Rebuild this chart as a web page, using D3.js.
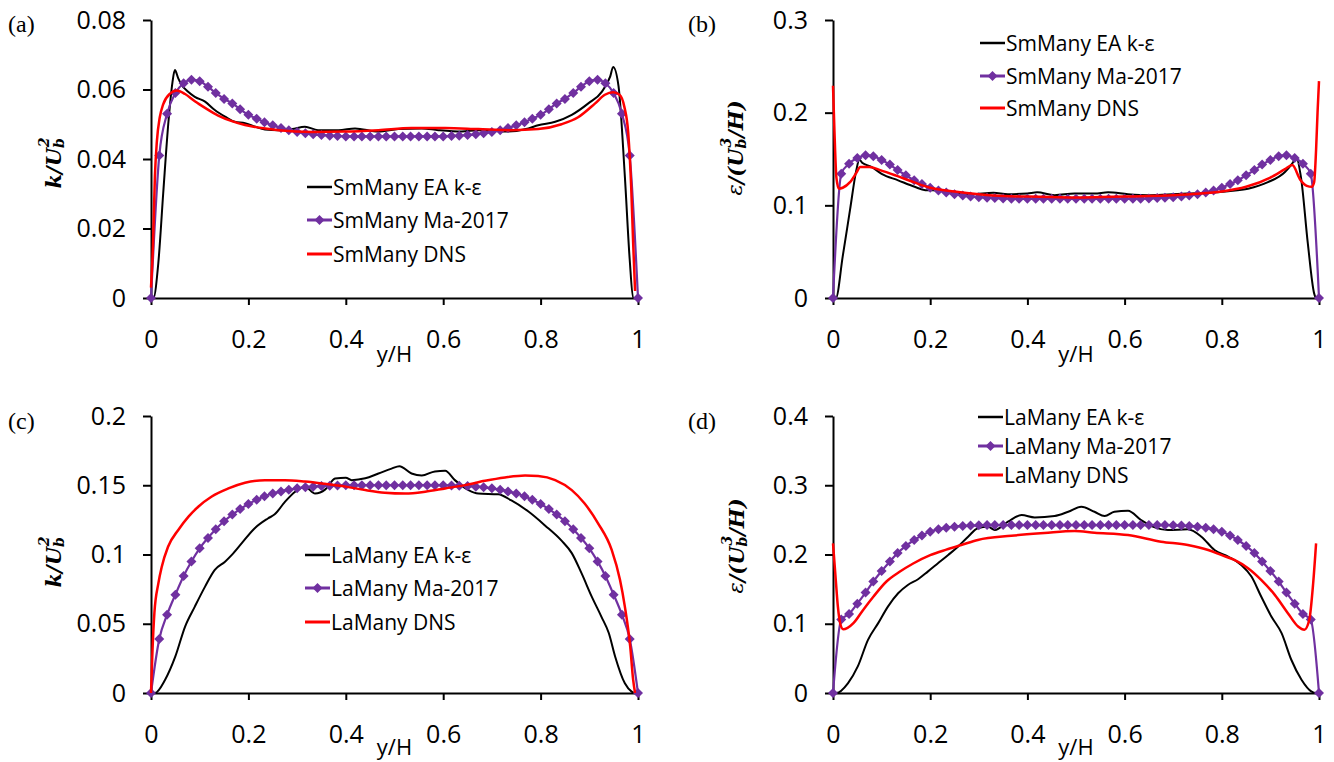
<!DOCTYPE html>
<html>
<head>
<meta charset="utf-8">
<script src="https://cdn.jsdelivr.net/npm/d3@7"></script>
<style>
  body { margin: 0; background: #fff; }
  svg text { font-family: "Open Sans", sans-serif; fill: #000; }
</style>
</head>
<body>
<svg id="chart" width="1334" height="762"></svg>
<script>
// ---- data ----
var xTicks = [0, 0.2, 0.4, 0.6, 0.8, 1];
var yTicksA = [0, 0.02, 0.04, 0.06, 0.08];
var yTicksB = [0, 0.1, 0.2, 0.3];
var yTicksC = [0, 0.05, 0.1, 0.15, 0.2];
var yTicksD = [0, 0.1, 0.2, 0.3, 0.4];

// marker positions of the Ma-2017 series (same for all panels)
var maX = [0,0.017,0.033,0.05,0.067,0.083,0.1,0.117,0.133,0.15,0.167,0.183,0.2,0.217,0.233,0.25,0.267,0.283,0.3,0.317,0.333,0.35,0.367,0.383,0.4,0.417,0.433,0.45,0.467,0.483,0.5,
  0.517,0.533,0.55,0.567,0.583,0.6,0.617,0.633,0.65,0.667,0.683,0.7,0.717,0.733,0.75,0.767,0.783,0.8,0.817,0.833,0.85,0.867,0.883,0.9,0.917,0.933,0.95,0.967,0.983,1];

// (a) SmMany k
var maA = [0,0.041,0.053,0.059,0.0618,0.0628,0.0624,0.0608,0.059,0.0573,0.056,0.0543,0.0527,0.0516,0.0506,0.0497,0.0489,0.0483,0.0478,0.0474,0.0471,0.0469,0.0467,0.0466,0.0465,0.0465,0.0465,0.0465,0.0465,0.0465,0.0465,
  0.0465,0.0465,0.0465,0.0465,0.0465,0.0465,0.0466,0.0467,0.0469,0.0471,0.0474,0.0478,0.0483,0.0489,0.0497,0.0506,0.0516,0.0527,0.0543,0.056,0.0573,0.059,0.0608,0.0624,0.0628,0.0618,0.059,0.053,0.041,0];
var eaA = [[0,0],[0.005,0],[0.015,0.010],[0.025,0.030],[0.036,0.051],[0.044,0.062],[0.049,0.0656],[0.056,0.0632],[0.063,0.0613],[0.075,0.0595],
  [0.09,0.0579],[0.111,0.0565],[0.131,0.0541],[0.152,0.0522],[0.172,0.0507],[0.193,0.0503],[0.214,0.0493],[0.234,0.0485],[0.262,0.0483],[0.29,0.0486],
  [0.316,0.0493],[0.343,0.0483],[0.385,0.0483],[0.419,0.0488],[0.467,0.0479],[0.508,0.0486],[0.556,0.0488],[0.59,0.0483],[0.638,0.0479],[0.672,0.0483],
  [0.727,0.0479],[0.775,0.0488],[0.795,0.0497],[0.83,0.0507],[0.864,0.0527],[0.898,0.056],[0.926,0.0594],[0.943,0.0638],[0.949,0.0665],[0.96,0.061],
  [0.973,0.035],[0.983,0.011],[0.99,0],[1,0]];
var dnsA = [[0,0.003],[0.004,0.015],[0.008,0.035],[0.012,0.045],[0.018,0.052],[0.025,0.0557],[0.039,0.0588],[0.053,0.0597],[0.07,0.0587],[0.09,0.0566],
  [0.111,0.0547],[0.138,0.0525],[0.166,0.0509],[0.193,0.0498],[0.227,0.0489],[0.262,0.0483],[0.33,0.0478],[0.398,0.0479],[0.467,0.0483],[0.535,0.0489],
  [0.604,0.0489],[0.672,0.0486],[0.74,0.0483],[0.795,0.0486],[0.843,0.050],[0.877,0.052],[0.912,0.056],[0.932,0.0585],[0.949,0.0592],[0.962,0.0585],
  [0.972,0.055],[0.98,0.0474],[0.986,0.032],[0.99,0.016],[0.994,0.002]];

// (b) SmMany epsilon
var maB = [0,0.134,0.145,0.151,0.154,0.153,0.149,0.144,0.138,0.1325,0.127,0.123,0.119,0.116,0.1138,0.112,0.1105,0.1095,0.1088,0.1082,0.1078,0.1075,0.1072,0.107,0.107,0.107,0.107,0.107,0.107,0.107,0.107,
  0.107,0.107,0.107,0.107,0.107,0.107,0.107,0.1072,0.1075,0.1078,0.1082,0.1088,0.1095,0.1105,0.112,0.1138,0.116,0.119,0.123,0.127,0.1325,0.138,0.144,0.149,0.153,0.154,0.151,0.145,0.134,0];
var eaB = [[0,0],[0.006,0],[0.02,0.045],[0.035,0.095],[0.048,0.138],[0.054,0.1495],[0.06,0.146],[0.079,0.1416],[0.1,0.134],[0.134,0.127],
  [0.168,0.120],[0.19,0.1164],[0.22,0.116],[0.25,0.1135],[0.285,0.112],[0.33,0.1135],[0.36,0.112],[0.4,0.1128],[0.42,0.114],[0.456,0.111],
  [0.497,0.1128],[0.538,0.1128],[0.566,0.114],[0.607,0.112],[0.648,0.111],[0.689,0.1118],[0.73,0.1128],[0.77,0.1135],[0.813,0.1153],[0.854,0.118],
  [0.895,0.125],[0.93,0.136],[0.946,0.146],[0.953,0.152],[0.963,0.13],[0.977,0.059],[0.99,0.005],[0.994,0],[1,0]];
var dnsB = [[0,0.229],[0.003,0.18],[0.007,0.13],[0.012,0.118],[0.02,0.119],[0.035,0.125],[0.048,0.135],[0.056,0.1415],[0.075,0.1415],[0.097,0.138],
  [0.13,0.132],[0.166,0.125],[0.2,0.119],[0.25,0.115],[0.3,0.112],[0.35,0.110],[0.4,0.1095],[0.45,0.109],[0.5,0.1085],[0.55,0.109],
  [0.6,0.1095],[0.65,0.110],[0.7,0.111],[0.75,0.1125],[0.8,0.115],[0.85,0.120],[0.9,0.130],[0.93,0.139],[0.945,0.1434],[0.961,0.128],
  [0.975,0.121],[0.985,0.12],[0.99,0.125],[0.994,0.16],[0.997,0.2],[1,0.234]];

// (c) LaMany k
var maC = [0,0.039,0.0565,0.071,0.0845,0.095,0.1045,0.112,0.1183,0.124,0.1288,0.1328,0.1365,0.1395,0.142,0.144,0.1455,0.1468,0.1478,0.1485,0.149,0.1494,0.1497,0.1498,0.15,0.15,0.15,0.15,0.15,0.15,0.15,
  0.15,0.15,0.15,0.15,0.15,0.15,0.1498,0.1497,0.1494,0.149,0.1485,0.1478,0.1468,0.1455,0.144,0.142,0.1395,0.1365,0.1328,0.1288,0.124,0.1183,0.112,0.1045,0.095,0.0845,0.071,0.0565,0.039,0];
var eaC = [[0,0],[0.008,0],[0.029,0.0096],[0.05,0.0264],[0.07,0.048],[0.09,0.0624],[0.111,0.0768],[0.131,0.0889],[0.152,0.0948],[0.166,0.0997],
  [0.186,0.108],[0.213,0.119],[0.24,0.126],[0.254,0.129],[0.275,0.138],[0.296,0.1453],[0.316,0.149],[0.337,0.144],[0.358,0.147],[0.378,0.1549],
  [0.4,0.1555],[0.412,0.1537],[0.44,0.155],[0.467,0.1585],[0.494,0.162],[0.51,0.1638],[0.535,0.1585],[0.556,0.157],[0.583,0.160],[0.604,0.1604],
  [0.624,0.1537],[0.652,0.1465],[0.672,0.144],[0.713,0.1435],[0.74,0.139],[0.775,0.131],[0.809,0.121],[0.843,0.110],[0.864,0.101],[0.884,0.0865],
  [0.905,0.0696],[0.925,0.055],[0.94,0.0433],[0.953,0.0264],[0.973,0.007],[0.987,0.001],[0.994,0],[1,0]];
var dnsC = [[0,0],[0.003,0.03],[0.007,0.058],[0.015,0.079],[0.022,0.091],[0.035,0.1056],[0.056,0.1177],[0.077,0.1273],[0.097,0.1345],[0.124,0.1417],
  [0.159,0.1477],[0.193,0.1518],[0.234,0.1537],[0.275,0.1537],[0.316,0.1527],[0.358,0.151],[0.4,0.149],[0.44,0.1465],[0.48,0.1446],[0.522,0.144],
  [0.563,0.1453],[0.604,0.1477],[0.645,0.1501],[0.686,0.1532],[0.727,0.1556],[0.768,0.157],[0.795,0.1566],[0.83,0.1537],[0.864,0.1465],[0.89,0.137],
  [0.918,0.1225],[0.946,0.1033],[0.963,0.0817],[0.973,0.0624],[0.984,0.0336],[0.99,0.0096],[0.994,0]];

// (d) LaMany epsilon
var maD = [0,0.106,0.114,0.129,0.145,0.161,0.176,0.19,0.202,0.2123,0.221,0.2275,0.233,0.2365,0.2388,0.2402,0.2412,0.2418,0.2422,0.2425,0.2425,0.2425,0.2425,0.2425,0.2425,0.2425,0.2425,0.2425,0.2425,0.2425,0.2425,
  0.2425,0.2425,0.2425,0.2425,0.2425,0.2425,0.2425,0.2425,0.2425,0.2425,0.2425,0.2422,0.2418,0.2412,0.2402,0.2388,0.2365,0.233,0.2275,0.221,0.2123,0.202,0.19,0.176,0.161,0.145,0.129,0.114,0.106,0];
var eaD = [[0,0],[0.007,0],[0.031,0.0144],[0.051,0.0384],[0.072,0.0768],[0.093,0.1009],[0.113,0.1248],[0.134,0.144],[0.154,0.156],[0.175,0.1643],
  [0.195,0.1753],[0.216,0.1873],[0.237,0.1993],[0.257,0.2113],[0.278,0.2257],[0.298,0.2378],[0.319,0.24],[0.333,0.2353],[0.36,0.2473],[0.388,0.257],
  [0.415,0.2536],[0.456,0.2555],[0.484,0.2617],[0.511,0.269],[0.538,0.2617],[0.559,0.2555],[0.579,0.2617],[0.607,0.2632],[0.634,0.2497],[0.662,0.2392],
  [0.689,0.2353],[0.73,0.2363],[0.758,0.2257],[0.785,0.2065],[0.813,0.1969],[0.84,0.1849],[0.861,0.1681],[0.881,0.1393],[0.902,0.1104],[0.923,0.0865],
  [0.943,0.048],[0.964,0.0192],[0.984,0.0024],[0.994,0],[1,0]];
var dnsD = [[0,0.216],[0.005,0.17],[0.01,0.125],[0.015,0.1],[0.021,0.092],[0.03,0.094],[0.042,0.1008],[0.062,0.12],[0.083,0.139],[0.11,0.161],
  [0.137,0.175],[0.165,0.187],[0.2,0.199],[0.233,0.207],[0.264,0.2137],[0.298,0.221],[0.367,0.227],[0.435,0.231],[0.497,0.234],[0.538,0.2315],
  [0.607,0.2281],[0.675,0.2185],[0.73,0.2137],[0.772,0.2065],[0.8,0.199],[0.826,0.1921],[0.854,0.1801],[0.881,0.1633],[0.909,0.1417],[0.936,0.1153],
  [0.957,0.096],[0.97,0.0913],[0.98,0.1057],[0.988,0.1585],[0.994,0.216]];

var namesSm = ["SmMany EA k-\u03b5", "SmMany Ma-2017", "SmMany DNS"];
var namesLa = ["LaMany EA k-\u03b5", "LaMany Ma-2017", "LaMany DNS"];

// ---- layout ----
var purple = "#7030a0", red = "#ff0000";

var panels = [
  {tag: "(a)", lx: 8, ty: 32, left: 151, right: 638, top: 20, bottom: 298, yMax: 0.08, yTicks: yTicksA,
   ea: eaA, ma: maA, dns: dnsA, names: namesSm, kind: "k", titleX: 53, titleY: 163, xt: 64,
   legX: 307, legY: [187, 220, 254]},
  {tag: "(b)", lx: 688, ty: 32, left: 833, right: 1319, top: 20, bottom: 298, yMax: 0.3, yTicks: yTicksB,
   ea: eaB, ma: maB, dns: dnsB, names: namesSm, kind: "eps", titleX: 735, titleY: 148, xt: 64,
   legX: 980, legY: [43, 76, 108]},
  {tag: "(c)", lx: 8, ty: 429, left: 151, right: 638, top: 416, bottom: 693, yMax: 0.2, yTicks: yTicksC,
   ea: eaC, ma: maC, dns: dnsC, names: namesLa, kind: "k", titleX: 53, titleY: 562, xt: 62,
   legX: 305, legY: [555, 588, 622]},
  {tag: "(d)", lx: 688, ty: 429, left: 833, right: 1319, top: 416, bottom: 693, yMax: 0.4, yTicks: yTicksD,
   ea: eaD, ma: maD, dns: dnsD, names: namesLa, kind: "eps", titleX: 736, titleY: 546, xt: 62,
   legX: 978, legY: [417, 446, 475]}
];

var svg = d3.select("#chart");
var fmt = d3.format("~g");
var diamond = "M0,-5L5,0L0,5L-5,0Z";

panels.forEach(function(p) {
  var g = svg.append("g");

  var x = d3.scaleLinear().domain([0, 1]).range([p.left, p.right]);
  var y = d3.scaleLinear().domain([0, p.yMax]).range([p.bottom, p.top]);

  // axes
  var gx = g.append("g")
      .attr("transform", "translate(0," + p.bottom + ")")
      .call(d3.axisBottom(x).tickValues(xTicks).tickFormat(fmt).tickSize(7).tickSizeOuter(0).tickPadding(25));
  var gy = g.append("g")
      .attr("transform", "translate(" + p.left + ",0)")
      .call(d3.axisLeft(y).tickValues(p.yTicks).tickFormat(fmt).tickSize(8).tickSizeOuter(0).tickPadding(17));
  [gx, gy].forEach(function(a) {
    a.select(".domain").attr("stroke", "#000").attr("stroke-width", 2);
    a.selectAll(".tick line").attr("stroke", "#000").attr("stroke-width", 2);
    a.selectAll(".tick text").style("font-size", "25px").style("font-family", "'Open Sans', sans-serif");
  });

  g.append("text")
      .attr("x", (p.left + p.right) / 2)
      .attr("y", p.bottom + p.xt)
      .attr("text-anchor", "middle")
      .style("font-size", "22px")
      .text("y/H");

  // y-axis title (math style)
  var t = g.append("text")
      .attr("transform", "translate(" + p.titleX + "," + p.titleY + ") rotate(-90)")
      .attr("text-anchor", "middle")
      .attr("dominant-baseline", "central")
      .style("font-family", "'DejaVu Serif', serif")
      .style("font-style", "italic")
      .style("font-weight", "bold")
      .style("font-size", "21px");
  if (p.kind === "k") {
    t.append("tspan").text("k/U");
    t.append("tspan").attr("dy", 6).style("font-size", "14px").text("b");
    t.append("tspan").attr("dx", -9).attr("dy", -15).style("font-size", "14px").text("2");
  } else {
    t.append("tspan").style("font-weight", "normal").text("\u03b5");
    t.append("tspan").text("/(U");
    t.append("tspan").attr("dy", 6).style("font-size", "14px").text("b");
    t.append("tspan").attr("dx", -9).attr("dy", -15).style("font-size", "14px").text("3");
    t.append("tspan").attr("dy", 9).text("/H)");
  }

  // panel tag
  svg.append("text")
      .attr("x", p.lx)
      .attr("y", p.ty)
      .style("font-family", "'Liberation Serif', serif")
      .style("font-size", "24px")
      .text(p.tag);

  var line = d3.line()
      .x(function(d) { return x(d[0]); })
      .y(function(d) { return y(d[1]); })
      .curve(d3.curveMonotoneX);

  var maPts = maX.map(function(v, i) { return [v, p.ma[i]]; });

  // EA k-eps
  g.append("path").datum(p.ea)
      .attr("fill", "none").attr("stroke", "#000").attr("stroke-width", 2)
      .attr("d", line);

  // Ma-2017 with diamond markers
  g.append("path").datum(maPts)
      .attr("fill", "none").attr("stroke", purple).attr("stroke-width", 2.2)
      .attr("d", line);
  g.selectAll(".mk").data(maPts).enter().append("path")
      .attr("class", "mk")
      .attr("d", diamond)
      .attr("fill", purple)
      .attr("transform", function(d) { return "translate(" + x(d[0]) + "," + y(d[1]) + ")"; });

  // DNS
  g.append("path").datum(p.dns)
      .attr("fill", "none").attr("stroke", red).attr("stroke-width", 2.5)
      .attr("d", line);

  // legend
  var cols = ["#000", purple, red];
  p.names.forEach(function(name, i) {
    var ly = p.legY[i];
    g.append("line")
        .attr("x1", p.legX).attr("x2", p.legX + 25)
        .attr("y1", ly).attr("y2", ly)
        .attr("stroke", cols[i]).attr("stroke-width", i === 0 ? 2.5 : 3);
    if (i === 1) {
      g.append("path").attr("d", diamond).attr("fill", purple)
          .attr("transform", "translate(" + (p.legX + 12.5) + "," + ly + ")");
    }
    g.append("text")
        .attr("x", p.legX + 26)
        .attr("y", ly)
        .attr("dominant-baseline", "central")
        .style("font-size", "21px")
        .text(name);
  });
});
</script>
</body>
</html>
